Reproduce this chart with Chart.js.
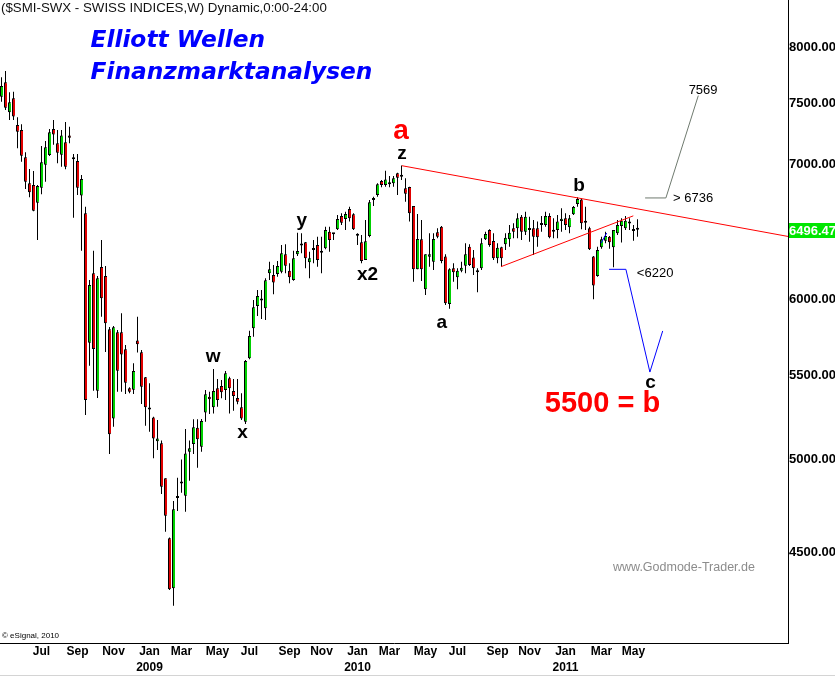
<!DOCTYPE html>
<html><head><meta charset="utf-8">
<script src="https://cdn.jsdelivr.net/npm/chart.js@4"></script>
<style>html,body{margin:0;padding:0;background:#fff;overflow:hidden}canvas{display:block}</style>
</head><body>
<canvas id="c" width="835" height="676"></canvas>
<script>
// ---- weekly OHLC of $SMI-SWX ----
const opens = [7560,7685,7427,7546,7320,7278,7055,6849,6836,6700,
6815,6996,7074,7286,7169,7076,7177,7233,7039,7026,
6754,6619,5712,6182,5408,6226,6163,5800,5240,5780,
5780,5669,5423,5414,5727,5650,5491,5294,5246,5105,
5093,4894,4571,4318,4786,4866,4798,5045,5089,5185,
5073,5276,5371,5307,5423,5437,5412,5485,5406,5363,
5307,5220,5611,5806,5956,5993,5940,6182,6170,6177,
6193,6318,6200,6135,6318,6380,6404,6260,6348,6385,
6329,6361,6482,6463,6500,6599,6576,6652,6612,6453,
6404,6276,6450,6733,6759,6867,6836,6842,6849,6928,
6901,6810,6821,6675,6210,6426,6070,6300,6264,6478,
6519,6301,5970,6217,6154,6200,6235,6372,6295,6189,
6217,6426,6494,6414,6288,6368,6390,6426,6507,6507,
6594,6482,6494,6507,6507,6532,6532,6599,6482,6494,
6562,6582,6514,6612,6690,6725,6557,6507,6301,6163,
6368,6416,6445,6368,6470,6524,6507,6543,6487,6496.47];
const highs = [7729,7784,7597,7603,7385,7326,7096,6962,6946,6836,
7147,7188,7286,7362,7278,7278,7345,7305,7082,7082,
6914,6669,6135,6343,6163,6421,6233,5815,5822,5795,
5907,5697,5429,5580,5884,5665,5493,5454,5250,5230,
5109,4894,4575,4770,4897,5001,5177,5109,5235,5235,
5236,5412,5402,5543,5480,5474,5531,5495,5480,5480,
5392,5600,5791,5997,6065,6065,6147,6264,6240,6269,
6385,6390,6253,6343,6475,6470,6406,6336,6421,6445,
6445,6519,6519,6470,6606,6619,6631,6669,6619,6470,
6458,6569,6720,6746,6849,6875,6948,6906,6906,6932,
6990,6888,6823,6675,6614,6569,6318,6470,6470,6507,
6524,6318,6217,6253,6217,6264,6397,6390,6348,6217,
6433,6482,6500,6470,6397,6372,6470,6532,6544,6619,
6606,6631,6594,6569,6557,6599,6631,6619,6582,6606,
6657,6619,6606,6675,6741,6733,6669,6519,6305,6372,
6445,6482,6450,6494,6569,6582,6599,6582,6532,6575];
const lows = [7517,7446,7362,7362,7128,7020,6805,6741,6635,6421,
6764,6862,7066,7157,7007,6980,6959,7169,6586,6759,
6343,5260,5564,5408,5363,5884,5652,5032,5191,5402,
5402,5388,5392,5388,5648,5327,5197,5161,5007,5055,
4807,4605,4310,4233,4715,4815,4712,4881,5032,4954,
5045,5220,5266,5270,5310,5362,5351,5270,5286,5325,
5230,5207,5605,5750,5888,5868,5862,6135,6036,6158,
6182,6182,6112,6130,6305,6324,6217,6147,6253,6229,
6182,6353,6336,6421,6494,6532,6494,6557,6494,6385,
6253,6276,6441,6675,6746,6818,6823,6818,6823,6759,
6875,6707,6557,6123,6210,6128,6031,6229,6205,6433,
6253,5963,5937,6123,6070,6189,6182,6233,6170,6050,
6205,6421,6372,6276,6253,6229,6348,6372,6433,6433,
6421,6458,6409,6312,6372,6482,6519,6433,6433,6433,
6482,6494,6470,6606,6669,6500,6494,6348,6002,6158,
6357,6397,6357,6225,6458,6402,6494,6494,6416,6445];
const closes = [7652,7466,7512,7390,7264,7068,6862,6780,6639,6828,
7015,7136,7259,7240,7092,7233,6980,7214,7039,6815,
6883,5351,6100,5671,6147,6008,5840,5146,5813,5533,
5635,5457,5402,5531,5702,5433,5307,5294,5122,5122,
4848,4690,4313,4725,4786,4866,5035,5065,5187,5117,
5224,5386,5355,5406,5351,5398,5516,5423,5376,5341,
5240,5594,5755,5947,6024,5993,6133,6210,6117,6233,
6325,6235,6154,6288,6341,6380,6288,6288,6348,6276,
6329,6494,6421,6463,6576,6549,6614,6582,6500,6453,
6269,6411,6703,6720,6842,6836,6880,6842,6888,6893,
6901,6769,6619,6210,6428,6210,6318,6318,6428,6445,
6269,5974,6210,6189,6200,6221,6318,6240,6217,6189,
6397,6465,6385,6288,6365,6288,6438,6475,6482,6582,
6482,6594,6507,6445,6441,6544,6599,6441,6494,6557,
6578,6532,6582,6667,6728,6544,6549,6353,6097,6348,
6426,6450,6404,6494,6532,6563,6563,6543,6487,6496.47];
const lastPrice = 6496.47;

// weekly categories (week start dates)
const firstWeek = new Date(Date.UTC(2008, 3, 14));
const weeks = opens.map((_, i) => new Date(firstWeek.getTime() + i * 7 * 86400000).toISOString().slice(0, 10));

// axis ticks
const yTickValues = [4500, 5000, 5500, 6000, 7000, 7500, 8000];
const tickWeekIdx = [10, 19, 28, 37, 45, 54, 62, 72, 80, 89, 97, 106, 114, 124, 132, 141, 150, 158];
const tickMonths = ['Jul','Sep','Nov','Jan','Mar','May','Jul','Sep','Nov','Jan','Mar','May','Jul','Sep','Nov','Jan','Mar','May'];
const tickYears  = ['','','','2009','','','','','','2010','','','','','','2011','',''];

// drawn wave lines (week index, price)
const upperTrend = [{x:100.1, y:6988}, {x:196.625, y:6447}];
const lowerTrend = [{x:124.9, y:6229}, {x:157.95, y:6600}];
const bullPath   = [{x:160.9, y:6736}, {x:166.1, y:6736}, {x:174.2, y:7569}];
const bearPath   = [{x:151.9, y:6210}, {x:156.1, y:6210}, {x:162.1, y:5524}, {x:165.3, y:5789}];
const blueTick   = [{x:149.9, y:6399}, {x:151.3, y:6472}];

// wave labels (week index, price of baseline)
const waveLabels = [
  {text:'a', idx:99.9, price:7204, style:'big'},
  {text:'z', idx:100.1, price:7042, style:'wave'},
  {text:'y', idx:75.1, price:6524, style:'wave'},
  {text:'x2', idx:91.5, price:6135, style:'wave'},
  {text:'w', idx:52.9, price:5590, style:'wave'},
  {text:'x', idx:60.25, price:5126, style:'wave'},
  {text:'a', idx:110.1, price:5808, style:'wave'},
  {text:'b', idx:144.4, price:6789, style:'wave'},
  {text:'c', idx:162.25, price:5424, style:'wave'},
  {text:'5500 = b', idx:150.25, price:5278, style:'target'},
  {text:'7569', idx:175.4, price:7585, style:'small'},
  {text:'> 6736', idx:172.9, price:6705, style:'small'},
  {text:'<6220', idx:163.4, price:6156, style:'small'}
];

const FAM = '"Liberation Sans", Arial, sans-serif';
const styles = {
  big:    {font:'bold 28px ' + FAM, color:'#ff0000'},
  wave:   {font:'bold 19px ' + FAM, color:'#000000'},
  target: {font:'bold 29px ' + FAM, color:'#ff0000'},
  small:  {font:'13px ' + FAM, color:'#000000'}
};

const UP = '#00d000', DOWN = '#e00000', FLAT = '#000000';
const bodyColors = opens.map((o, i) => closes[i] > o ? UP : (closes[i] < o ? DOWN : FLAT));

const textPlugin = {
  id: 'texts',
  afterDraw(chart) {
    const {ctx, scales: {x, y}} = chart;
    ctx.save();
    ctx.textAlign = 'center';
    ctx.textBaseline = 'alphabetic';
    waveLabels.forEach(l => {
      const st = styles[l.style];
      ctx.font = st.font; ctx.fillStyle = st.color;
      ctx.fillText(l.text, x.getPixelForValue(l.idx), y.getPixelForValue(l.price));
    });
    const py = Math.round(y.getPixelForValue(lastPrice));
    ctx.fillStyle = '#00e600';
    ctx.fillRect(789, py - 7, 46, 15);
    ctx.fillStyle = '#ffffff';
    ctx.font = 'bold 13px ' + FAM;
    ctx.textAlign = 'left'; ctx.textBaseline = 'middle';
    ctx.fillText(lastPrice.toFixed(2), 789, py + 1);
    ctx.textBaseline = 'alphabetic';
    ctx.fillStyle = '#111111';
    ctx.font = '13.3px ' + FAM;
    ctx.fillText('($SMI-SWX - SWISS INDICES,W) Dynamic,0:00-24:00', 1, 12);
    ctx.fillStyle = '#0000ff';
    ctx.font = 'italic bold 23.3px "DejaVu Sans", Verdana, sans-serif';
    ctx.fillText('Elliott Wellen', 90.5, 47);
    ctx.fillText('Finanzmarktanalysen', 90.5, 79);
    ctx.fillStyle = '#8c8c8c';
    ctx.font = '12.5px ' + FAM;
    ctx.fillText('www.Godmode-Trader.de', 613, 571);
    ctx.fillStyle = '#000000';
    ctx.font = '8px ' + FAM;
    ctx.fillText('\u00A9 eSignal, 2010', 2, 638);
    ctx.fillStyle = '#d4d4d4';
    ctx.fillRect(0, 675, 835, 1);
    ctx.restore();
  }
};

const lineDs = (label, data, color) => ({
  type: 'line', label, data, borderColor: color, borderWidth: 1,
  pointRadius: 0, fill: false, tension: 0, order: 0
});

new Chart(document.getElementById('c'), {
  type: 'bar',
  data: {
    labels: weeks,
    datasets: [
      lineDs('upper trend', upperTrend, '#ff0000'),
      lineDs('lower trend', lowerTrend, '#ff0000'),
      lineDs('bull path', bullPath, '#6f7a6f'),
      lineDs('bear path', bearPath, '#0000ff'),
      lineDs('blue tick', blueTick, '#0000ff'),
      {
        label: 'wick',
        data: lows.map((l, i) => ({x: i, y: [l, highs[i]]})),
        backgroundColor: '#000000', borderWidth: 0, borderSkipped: false,
        barThickness: 1, maxBarThickness: 1, grouped: false, inflateAmount: 0, order: 9
      },
      {
        label: 'body',
        data: opens.map((o, i) => ({x: i, y: [o, closes[i]]})),
        backgroundColor: bodyColors, borderColor: '#000000',
        borderWidth: {top: 1, bottom: 1, left: 1, right: 0},
        borderSkipped: false, barThickness: 3, maxBarThickness: 3, minBarLength: 2,
        grouped: false, inflateAmount: 0, order: 1
      }
    ]
  },
  options: {
    responsive: false, animation: false, devicePixelRatio: 1, events: [],
    layout: {padding: 0},
    plugins: {legend: {display: false}, tooltip: {enabled: false}},
    scales: {
      x: {
        type: 'linear', min: -0.375, max: 196.625, offset: false, bounds: 'data',
        grid: {display: false, drawTicks: false},
        border: {display: true, color: '#000000', width: 1},
        afterBuildTicks: s => { s.ticks = tickWeekIdx.map(v => ({value: v})); },
        afterFit: s => { s.height = 33; s.paddingLeft = 0; s.paddingRight = 0; },
        ticks: {
          autoSkip: false, maxRotation: 0, minRotation: 0, padding: 1, color: '#000000',
          font: {family: FAM, size: 12, weight: 'bold', lineHeight: 1.3333},
          callback: (v) => {
            const k = tickWeekIdx.indexOf(v);
            if (k < 0) return '';
            return tickYears[k] ? [tickMonths[k], tickYears[k]] : tickMonths[k];
          }
        }
      },
      y: {
        type: 'logarithmic', position: 'right', min: 4057, max: 8440, bounds: 'data',
        grid: {display: false, drawTicks: false},
        border: {display: true, color: '#000000', width: 1},
        afterBuildTicks: s => { s.ticks = yTickValues.map(v => ({value: v})); },
        afterFit: s => { s.width = 47; s.paddingTop = 0; s.paddingBottom = 0; },
        ticks: {
          autoSkip: false, padding: 1, color: '#000000',
          font: {family: FAM, size: 13, weight: 'bold'},
          callback: v => Number(v).toFixed(2)
        }
      }
    }
  },
  plugins: [textPlugin]
});
</script>
</body></html>
